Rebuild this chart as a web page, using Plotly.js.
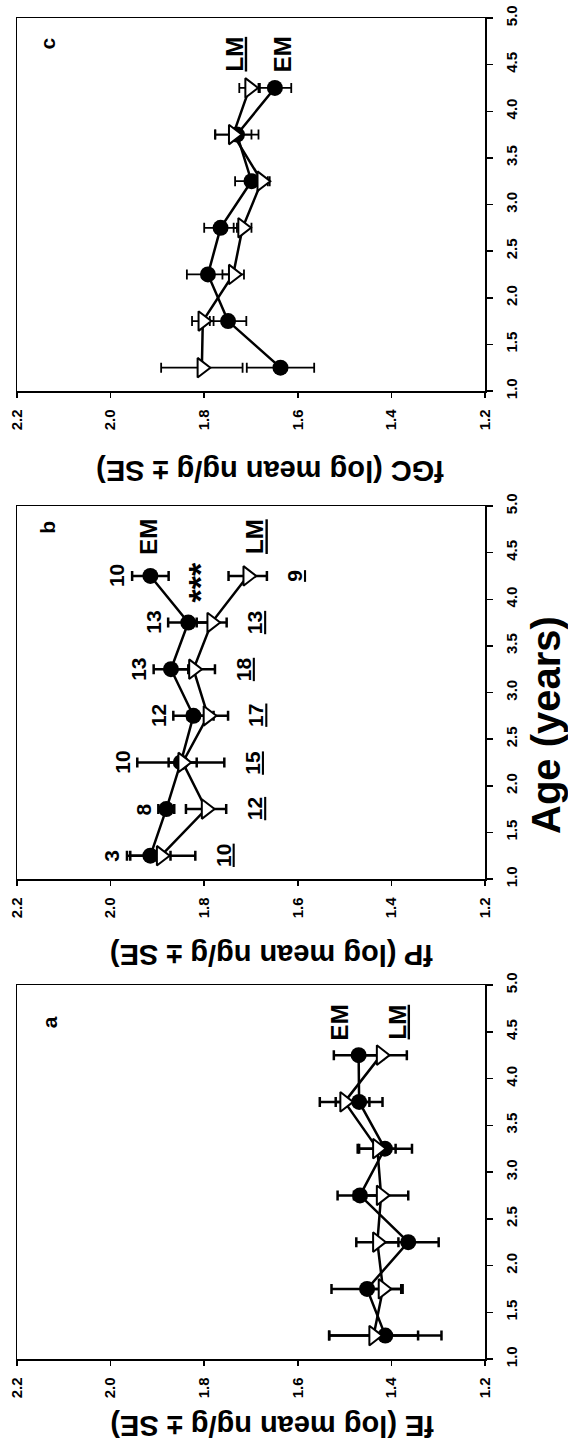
<!DOCTYPE html>
<html>
<head>
<meta charset="utf-8">
<script src="https://cdn.plot.ly/plotly-3.0.1.min.js"></script>
<style>html,body{margin:0;padding:0;background:#fff;}#chart{width:568px;height:1446px;}</style>
</head>
<body>
<div id="chart"></div>
<script>
// Age classes (years)
const ages = [1.25, 1.75, 2.25, 2.75, 3.25, 3.75, 4.25];
const ageTicks = [1.0, 1.5, 2.0, 2.5, 3.0, 3.5, 4.0, 4.5, 5.0];
const valueTicks = [1.2, 1.4, 1.6, 1.8, 2.0, 2.2];

// Panel a: fE
const fE_EM = [1.413, 1.452, 1.364, 1.467, 1.414, 1.469, 1.470];
const fE_EM_se = [0.120, 0.076, 0.065, 0.048, 0.058, 0.050, 0.053];
const fE_LM = [1.438, 1.418, 1.430, 1.422, 1.430, 1.500, 1.422];
const fE_LM_se = [0.095, 0.039, 0.045, 0.058, 0.039, 0.053, 0.055];

// Panel b: fP
const fP_EM = [1.915, 1.881, 1.850, 1.823, 1.871, 1.834, 1.915];
const fP_EM_se = [0.043, 0.017, 0.093, 0.043, 0.037, 0.043, 0.039];
const fP_LM = [1.892, 1.796, 1.846, 1.792, 1.823, 1.784, 1.707];
const fP_LM_se = [0.073, 0.043, 0.030, 0.043, 0.046, 0.032, 0.041];
const n_EM = [3, 8, 10, 12, 13, 13, 10];
const n_LM = [10, 12, 15, 17, 18, 13, 9];

// Panel c: fGC
const fGC_EM = [1.637, 1.749, 1.792, 1.765, 1.699, 1.730, 1.649];
const fGC_EM_se = [0.072, 0.039, 0.045, 0.035, 0.035, 0.046, 0.035];
const fGC_LM = [1.805, 1.803, 1.738, 1.718, 1.677, 1.738, 1.703];
const fGC_LM_se = [0.087, 0.023, 0.023, 0.019, 0.017, 0.039, 0.022];

const FONT = 'Liberation Sans, Arial, sans-serif';
const W = 568, H = 1446;

function pair(em, emSe, lm, lmSe, xa, ya, thick) {
  const eb = (arr) => ({type: 'data', array: arr, color: '#000', thickness: thick, width: 5});
  return [
    {x: em, y: ages, xaxis: xa, yaxis: ya, mode: 'lines+markers', type: 'scatter',
     line: {color: '#000', width: 2.5},
     marker: {symbol: 'circle', size: 16, color: '#000'},
     error_x: eb(emSe), showlegend: false, hoverinfo: 'skip'},
    {x: lm, y: ages, xaxis: xa, yaxis: ya, mode: 'lines+markers', type: 'scatter',
     line: {color: '#000', width: 2.5},
     marker: {symbol: 'triangle-right', size: 17, color: '#fff', line: {color: '#000', width: 2}},
     error_x: eb(lmSe), showlegend: false, hoverinfo: 'skip'}
  ];
}

const data = [].concat(
  pair(fE_EM, fE_EM_se, fE_LM, fE_LM_se, 'x', 'y', 2.5),
  pair(fP_EM, fP_EM_se, fP_LM, fP_LM_se, 'x2', 'y2', 2.5),
  pair(fGC_EM, fGC_EM_se, fGC_LM, fGC_LM_se, 'x3', 'y3', 1.8)
);

const xDom = [17 / W, 485 / W];
function yDom(top, bottom) { return [1 - bottom / H, 1 - top / H]; }

function valAxis(anchor) {
  return {
    domain: xDom, anchor: anchor, range: [2.2, 1.2], tickvals: valueTicks, tickformat: '.1f',
    tickangle: -90, ticks: 'outside', ticklen: 5, tickwidth: 1.5, tickcolor: '#000',
    ticklabelstandoff: 6,
    showline: true, mirror: true, linecolor: '#000', linewidth: 1.5,
    showgrid: false, zeroline: false,
    tickfont: {family: FONT, size: 15, color: '#000', weight: 'bold'}
  };
}
function ageAxis(anchor, dom) {
  return {
    domain: dom, anchor: anchor, side: 'right', range: [1, 5], tickvals: ageTicks, tickformat: '.1f',
    tickangle: -90, ticks: 'outside', ticklen: 6, tickwidth: 1.5, tickcolor: '#000',
    ticklabelstandoff: 6,
    showline: true, mirror: true, linecolor: '#000', linewidth: 1.5,
    showgrid: false, zeroline: false,
    tickfont: {family: FONT, size: 15, color: '#000', weight: 'bold'}
  };
}

const annotations = [];
function rot(text, x, y, xref, yref, size, extra) {
  annotations.push(Object.assign({text: text, x: x, y: y, xref: xref, yref: yref, showarrow: false,
    textangle: -90, xanchor: 'center', yanchor: 'middle',
    font: {family: FONT, size: size, color: '#000', weight: 'bold'}}, extra || {}));
}

// panel letters
rot('a', 2.13, 4.6, 'x', 'y', 21);
rot('b', 2.135, 4.77, 'x2', 'y2', 21);
rot('c', 2.135, 4.73, 'x3', 'y3', 21);

// group labels
rot('EM', 1.512, 4.6, 'x', 'y', 24);
rot('<u>LM</u>', 1.388, 4.6, 'x', 'y', 24);
rot('EM', 1.918, 4.67, 'x2', 'y2', 24);
rot('<u>LM</u>', 1.691, 4.67, 'x2', 'y2', 24);
rot('<u>LM</u>', 1.736, 4.61, 'x3', 'y3', 24);
rot('EM', 1.632, 4.61, 'x3', 'y3', 24);

// sample sizes (panel b)
for (let i = 0; i < ages.length; i++) {
  const left = Math.max(fP_EM[i] + fP_EM_se[i], fP_LM[i] + fP_LM_se[i]);
  const right = Math.min(fP_EM[i] - fP_EM_se[i], fP_LM[i] - fP_LM_se[i]);
  rot(String(n_EM[i]), left, ages[i], 'x2', 'y2', 21, {xshift: -15});
  rot('<u>' + n_LM[i] + '</u>', right, ages[i], 'x2', 'y2', 21, {xshift: 28});
}
rot('***', 1.807, 4.18, 'x2', 'y2', 34);

// axis titles (upside-down as in the rotated figure)
function title(text, x, y, angle, size) {
  annotations.push({text: text, x: x, y: y, xref: 'paper', yref: 'paper', showarrow: false,
    textangle: angle, xanchor: 'center', yanchor: 'middle',
    font: {family: FONT, size: size, color: '#000', weight: 'bold'}});
}
title('fE (log mean ng/g ± SE)', 272 / W, 1 - 1426 / H, 180, 29);
title('fP (log mean ng/g ± SE)', 272 / W, 1 - 955 / H, 180, 29);
title('fGC (log mean ng/g ± SE)', 270 / W, 1 - 471 / H, 180, 29);
title('Age (years)', 546 / W, 1 - 725 / H, -90, 40);

const layout = {
  width: W, height: H, margin: {l: 0, r: 0, t: 0, b: 0},
  paper_bgcolor: '#fff', plot_bgcolor: '#fff', showlegend: false,
  xaxis: valAxis('y'), yaxis: ageAxis('x', yDom(985, 1359)),
  xaxis2: valAxis('y2'), yaxis2: ageAxis('x2', yDom(506, 879)),
  xaxis3: valAxis('y3'), yaxis3: ageAxis('x3', yDom(18, 391)),
  annotations: annotations
};

Plotly.newPlot('chart', data, layout, {staticPlot: true});
</script>
</body>
</html>
